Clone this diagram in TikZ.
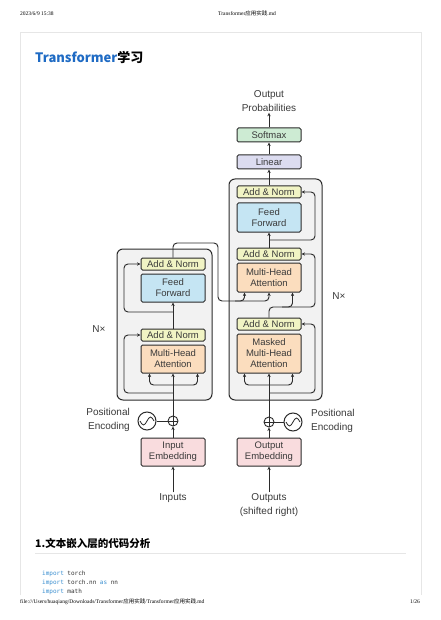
\documentclass[tikz,border=0pt]{standalone}
\usepackage{fontspec}
\setmainfont{Liberation Sans}
\newfontfamily\cjk{Noto Sans CJK SC}
\newfontfamily\timesf{Liberation Serif}
\newfontfamily\codef{DejaVu Sans Mono}
\usetikzlibrary{arrows.meta,calc}
\definecolor{ink}{HTML}{2B2B2B}
\definecolor{cSoft}{HTML}{CDEBD3}
\definecolor{cLin}{HTML}{DCDCF0}
\definecolor{cAN}{HTML}{F1F4C4}
\definecolor{cFF}{HTML}{C5E5F3}
\definecolor{cMHA}{HTML}{FBDDBE}
\definecolor{cEmb}{HTML}{F9DCDE}
\definecolor{cBig}{HTML}{F2F2F2}
\definecolor{titleblue}{HTML}{1F6BC4}
\definecolor{kw}{HTML}{3A8FD0}
\definecolor{codetext}{HTML}{333333}
\definecolor{frame}{HTML}{E6E6E6}
\definecolor{txt}{HTML}{3A3A3A}
\tikzset{
  blk/.style={draw=ink, line width=1pt, rounded corners=1.5pt, minimum width=64pt,
    inner sep=0pt, align=center, font=\fontsize{9.5}{11}\selectfont, text=txt},
  big/.style={draw=ink, line width=1pt, rounded corners=6pt, fill=cBig},
  arr/.style={-{Stealth[length=3.5pt,width=3.2pt]}, line width=0.95pt, draw=ink},
  ln/.style={line width=0.95pt, draw=ink},
  lbl/.style={font=\fontsize{10}{14}\selectfont, text=txt, inner sep=1pt},
  wave/.style={circle, draw=ink, line width=1pt, minimum size=18pt, inner sep=0pt},
  plus/.style={circle, draw=ink, line width=0.9pt, minimum size=10pt, inner sep=0pt},
  tiny/.style={font=\timesf\fontsize{5.5}{6}\selectfont, anchor=base west, inner sep=0pt, text=black}
}
\begin{document}
\begin{tikzpicture}[x=1pt,y=-1pt]
\fill[white] (0,0) rectangle (440,620);
\useasboundingbox (0,0) rectangle (440,620);
% page
\node[tiny] (date) at (20,16) {2023/6/9 15:38};
\node[tiny] (fname) at (218,16) {Transformer{\cjk 应用实践}.md};
\draw[frame, line width=0.6pt] (20,595) -- (20,32) -- (421,32) -- (421,595);
\node[anchor=base west, inner sep=0pt] (title) at (35,63)
  {\cjk\bfseries\fontsize{13}{15}\selectfont\textcolor{titleblue}{Transformer}学习};
% big boxes
\node[big, minimum width=95pt, minimum height=151pt] (encBox) at (164.5,324.5) {};
\node[big, minimum width=93pt, minimum height=221pt] (decBox) at (275.5,289.5) {};
% encoder blocks
\node[blk, fill=cAN, minimum height=12pt] (encAN2) at (173,264) {Add \& Norm};
\node[blk, fill=cFF, minimum height=28pt] (encFF) at (173,288) {Feed\\Forward};
\node[blk, fill=cAN, minimum height=12pt] (encAN1) at (173,335) {Add \& Norm};
\node[blk, fill=cMHA, minimum height=28pt] (encMHA) at (173,359) {Multi-Head\\Attention};
% decoder blocks
\node[blk, fill=cSoft, minimum height=14pt] (softmax) at (269,135) {Softmax};
\node[blk, fill=cLin, minimum height=14pt] (linear) at (269,162) {Linear};
\node[blk, fill=cAN, minimum height=12pt] (decAN3) at (269,192) {Add \& Norm};
\node[blk, fill=cFF, minimum height=29pt] (decFF) at (269,217.5) {Feed\\Forward};
\node[blk, fill=cAN, minimum height=12pt] (decAN2) at (269,254) {Add \& Norm};
\node[blk, fill=cMHA, minimum height=29pt] (decMHA) at (269,277.5) {Multi-Head\\Attention};
\node[blk, fill=cAN, minimum height=12pt] (decAN1) at (269,324) {Add \& Norm};
\node[blk, fill=cMHA, minimum height=39pt] (decMMHA) at (269,353.5) {Masked\\Multi-Head\\Attention};
% embeddings
\node[blk, fill=cEmb, minimum height=28pt] (inEmb) at (173,452) {Input\\Embedding};
\node[blk, fill=cEmb, minimum height=28pt] (outEmb) at (269,452) {Output\\Embedding};
% positional encodings
\node[plus] (plusL) at (173,421) {};
\node[wave] (waveL) at (147,421) {};
\node[plus] (plusR) at (269,422) {};
\node[wave] (waveR) at (293,422) {};
\foreach \p in {plusL,plusR}{\draw[line width=0.8pt, ink] (\p.north) -- (\p.south) (\p.west) -- (\p.east);}
\foreach \w in {waveL,waveR}{\draw[line width=0.8pt, ink] ($(\w.center)+(-7,0)$) sin ++(3.5,4) cos ++(3.5,-4) sin ++(3.5,-4) cos ++(3.5,4);}
\draw[ln] (waveL.east) -- (plusL.west);
\draw[ln] (waveR.west) -- (plusR.east);
% labels
\node[lbl, align=center] (outprob) at (269,101) {Output\\Probabilities};
\node[lbl, align=right, anchor=east] (peL) at (131,420) {Positional\\Encoding};
\node[lbl, align=left, anchor=west] (peR) at (310,421) {Positional\\Encoding};
\node[lbl] (inputs) at (173,498) {Inputs};
\node[lbl, align=center] (outputs) at (269,505) {Outputs\\(shifted right)};
\node[lbl] (nxL) at (99,329) {N×};
\node[lbl] (nxR) at (339,296) {N×};
% encoder connectors
\draw[arr] (inputs.north) -- (inEmb.south);
\draw[arr] (inEmb.north) -- (plusL.south);
\draw[arr] (plusL.north) -- (encMHA.south);
\coordinate (eb) at (173,385);
\draw[arr, rounded corners=4pt] (eb) -| ($(encMHA.south west)+(9,0)$);
\draw[arr, rounded corners=4pt] (eb) -| ($(encMHA.south east)+(-8,0)$);
\draw[arr, rounded corners=4pt] (173,393) -| (124,335) -- (encAN1.west);
\draw[arr] (encAN1.north) -- (encFF.south);
\draw[arr, rounded corners=4pt] (173,312) -| (124,264) -- (encAN2.west);
% encoder output to decoder
\draw[arr, rounded corners=4pt] (encAN2.north) |- (218,243) |- (269,301) -- (decMHA.south);
\draw[arr, rounded corners=4pt] (235,301) -| ($(decMHA.south west)+(8,0)$);
% decoder connectors
\draw[arr] (outputs.north) -- (outEmb.south);
\draw[arr] (outEmb.north) -- (plusR.south);
\draw[arr] (plusR.north) -- (decMMHA.south);
\coordinate (db) at (269,385);
\draw[arr, rounded corners=4pt] (db) -| ($(decMMHA.south west)+(8,0)$);
\draw[arr, rounded corners=4pt] (db) -| ($(decMMHA.south east)+(-9,0)$);
\draw[arr, rounded corners=4pt] (269,393) -| (315,324) -- (decAN1.east);
\draw[arr, rounded corners=4pt] (decAN1.north) |- (315,307) |- (decAN2.east);
\draw[arr, rounded corners=4pt] (282,307) -| ($(decMHA.south east)+(-9,0)$);
\draw[arr] (decAN2.north) -- (decFF.south);
\draw[arr, rounded corners=4pt] (269,240) -| (315,192) -- (decAN3.east);
\draw[arr] (decAN3.north) -- (linear.south);
\draw[arr] (linear.north) -- (softmax.south);
\draw[arr] (softmax.north) -- (outprob.south);
% section and code
\node[anchor=base west, inner sep=0pt] (sec) at (35,547)
  {\cjk\bfseries\fontsize{10.5}{12}\selectfont 1.文本嵌入层的代码分析};
\draw[frame, line width=0.5pt] (35,553) -- (406,553);
\node[anchor=base west, inner sep=0pt, font=\codef\fontsize{6}{7}\selectfont, text=codetext] (code1) at (42,575) {\textcolor{kw}{import} torch};
\node[anchor=base west, inner sep=0pt, font=\codef\fontsize{6}{7}\selectfont, text=codetext] (code2) at (42,584) {\textcolor{kw}{import} torch.nn \textcolor{kw}{as} nn};
\node[anchor=base west, inner sep=0pt, font=\codef\fontsize{6}{7}\selectfont, text=codetext] (code3) at (42,593) {\textcolor{kw}{import} math};
% footer
\node[tiny] (foot) at (20,603) {file:///Users/huaqiang/Downloads/Transformer{\cjk 应用实践}/Transformer{\cjk 应用实践}.md};
\node[tiny, anchor=base east] (pg) at (420,603) {1/26};
\end{tikzpicture}
\end{document}
